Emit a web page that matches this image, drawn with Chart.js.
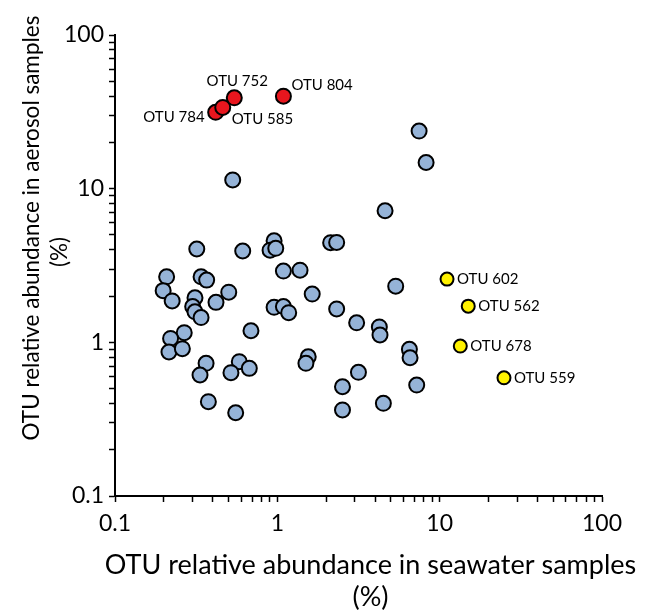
<!DOCTYPE html>
<html>
<head>
<meta charset="utf-8">
<script src="https://cdn.jsdelivr.net/npm/chart.js@4.4.0/dist/chart.umd.min.js"></script>
<style>
  html, body { margin: 0; padding: 0; background: #fff; }
  #wrap { width: 649px; height: 610px; }
</style>
</head>
<body>
<div id="wrap"><canvas id="otuChart" width="649" height="610"></canvas></div>
<script>
// --- datos (abundancia relativa, %) ---
const otherSeawater = [0.319, 0.612, 0.955, 0.902, 0.978, 2.13, 2.32, 0.208, 0.339, 0.367,
  1.09, 1.38, 0.198, 0.225, 0.311, 0.301, 0.311, 0.339, 0.419, 0.502,
  0.955, 1.09, 1.175, 1.64, 2.32, 3.08, 0.688, 0.267, 0.220, 0.215,
  0.260, 0.364, 0.334, 0.583, 0.518, 0.672, 1.55, 1.50, 3.16, 2.52,
  0.376, 0.554, 2.52, 0.531, 7.47, 8.25, 4.61, 5.36, 4.25, 4.29,
  6.51, 6.57, 7.22, 4.50];
const otherAerosol = [4.05, 3.93, 4.58, 3.98, 4.09, 4.45, 4.47, 2.67, 2.67, 2.54,
  2.91, 2.95, 2.17, 1.86, 1.95, 1.71, 1.58, 1.45, 1.82, 2.12,
  1.69, 1.71, 1.56, 2.06, 1.65, 1.34, 1.19, 1.155, 1.06, 0.865,
  0.909, 0.730, 0.613, 0.748, 0.635, 0.677, 0.806, 0.730, 0.638, 0.514,
  0.411, 0.348, 0.363, 11.4, 23.7, 14.8, 7.18, 2.32, 1.26, 1.116,
  0.900, 0.794, 0.527, 0.401];

const aerosolOtuNames = ['OTU 784', 'OTU 585', 'OTU 752', 'OTU 804'];
const aerosolOtuSeawater = [0.417, 0.461, 0.543, 1.09];
const aerosolOtuAerosol = [31.4, 33.8, 39.0, 40.0];

const seawaterOtuNames = ['OTU 602', 'OTU 562', 'OTU 678', 'OTU 559'];
const seawaterOtuSeawater = [11.1, 15.0, 13.4, 24.9];
const seawaterOtuAerosol = [2.58, 1.72, 0.946, 0.588];

const xTickLabels = ['0.1', '1', '10', '100'];
const yTickLabels = ['0.1', '1', '10', '100'];
const xTitle = ['OTU relative abundance in seawater samples', '(%)'];
const yTitle = ['OTU relative abundance in aerosol samples', '(%)'];

// posición de las etiquetas respecto al punto (solo estilo)
const labelPlacement = {
  'OTU 784': { dx: -11, dy: 5, align: 'right' },
  'OTU 585': { dx: 9, dy: 12, align: 'left' },
  'OTU 752': { dx: 3, dy: -17, align: 'center' },
  'OTU 804': { dx: 8, dy: -11, align: 'left' },
  'OTU 602': { dx: 10, dy: 0, align: 'left' },
  'OTU 562': { dx: 10, dy: 0, align: 'left' },
  'OTU 678': { dx: 10, dy: 0, align: 'left' },
  'OTU 559': { dx: 10, dy: 0, align: 'left' }
};

const FONT = 'Lato';

const toPoints = (xs, ys) => xs.map((x, i) => ({ x, y: ys[i] }));

// marcas menores 1..9 x 10^n
function logTicks(labels) {
  const out = [];
  const decades = labels.map(Number);
  decades.forEach((d, i) => {
    if (i === decades.length - 1) { out.push({ value: d, major: true }); return; }
    for (let m = 1; m <= 9; m++) out.push({ value: +(d * m).toPrecision(3), major: m === 1 });
  });
  return out;
}

function tickLabel(labels) {
  return function (value) {
    const hit = labels.find(l => Math.abs(Number(l) - value) < 1e-9);
    return hit !== undefined ? hit : '';
  };
}

// etiquetas de las OTU destacadas
const pointLabels = {
  id: 'pointLabels',
  afterDatasetsDraw(chart) {
    const ctx = chart.ctx;
    ctx.save();
    ctx.font = '15px ' + FONT;
    ctx.fillStyle = '#000';
    ctx.textBaseline = 'middle';
    chart.data.datasets.forEach((ds, di) => {
      if (!ds.names) return;
      const meta = chart.getDatasetMeta(di);
      meta.data.forEach((el, i) => {
        const name = ds.names[i];
        const p = labelPlacement[name];
        ctx.textAlign = p.align;
        ctx.fillText(name, el.x + p.dx, el.y + p.dy);
      });
    });
    ctx.restore();
  }
};

// títulos de los ejes
const axisTitles = {
  id: 'axisTitles',
  afterDraw(chart) {
    const ctx = chart.ctx;
    const a = chart.chartArea;
    ctx.save();
    ctx.fillStyle = '#000';
    ctx.textAlign = 'center';
    ctx.textBaseline = 'middle';
    ctx.font = '27px ' + FONT;
    const cx = (a.left + a.right) / 2 + 12;
    ctx.fillText(xTitle[0], cx, 565);
    ctx.fillText(xTitle[1], cx, 597);
    ctx.font = '22.5px ' + FONT;
    ctx.rotate(-Math.PI / 2);
    ctx.fillText(yTitle[0], -228, 32);
    ctx.fillText(yTitle[1], -252, 60);
    ctx.restore();
  }
};

const ctx = document.getElementById('otuChart').getContext('2d');
new Chart(ctx, {
  type: 'scatter',
  data: {
    datasets: [
      {
        label: 'Other OTUs',
        data: toPoints(otherSeawater, otherAerosol),
        backgroundColor: '#95B3D7',
        borderColor: '#000',
        borderWidth: 2,
        pointRadius: 7.5
      },
      {
        label: 'Aerosol OTUs',
        names: aerosolOtuNames,
        data: toPoints(aerosolOtuSeawater, aerosolOtuAerosol),
        backgroundColor: '#E8161E',
        borderColor: '#000',
        borderWidth: 2,
        pointRadius: 7.5
      },
      {
        label: 'Seawater OTUs',
        names: seawaterOtuNames,
        data: toPoints(seawaterOtuSeawater, seawaterOtuAerosol),
        backgroundColor: '#FFF200',
        borderColor: '#000',
        borderWidth: 2,
        pointRadius: 6.5
      }
    ]
  },
  options: {
    responsive: false,
    animation: false,
    events: [],
    layout: { padding: { top: 35, right: 47, left: 0, bottom: 0 } },
    plugins: { legend: { display: false }, tooltip: { enabled: false } },
    scales: {
      x: {
        type: 'logarithmic',
        min: 0.1, max: 100,
        afterBuildTicks: s => { s.ticks = logTicks(xTickLabels); },
        afterFit: s => { s.height = 114; },
        border: { display: true, color: '#000', width: 2 },
        grid: { drawOnChartArea: false, drawTicks: true, tickLength: 6, tickColor: '#000', tickWidth: 1.5 },
        ticks: {
          autoSkip: false, maxRotation: 0, padding: 8, color: '#000',
          font: { family: FONT, size: 23 },
          callback: tickLabel(xTickLabels)
        }
      },
      y: {
        type: 'logarithmic',
        min: 0.1, max: 100,
        afterBuildTicks: s => { s.ticks = logTicks(yTickLabels); },
        afterFit: s => { s.width = 115; },
        border: { display: true, color: '#000', width: 2 },
        grid: { drawOnChartArea: false, drawTicks: true, tickLength: 6, tickColor: '#000', tickWidth: 1.5 },
        ticks: {
          autoSkip: false, padding: 5, color: '#000',
          font: { family: FONT, size: 23 },
          callback: tickLabel(yTickLabels)
        }
      }
    }
  },
  plugins: [pointLabels, axisTitles]
});
</script>
</body>
</html>
